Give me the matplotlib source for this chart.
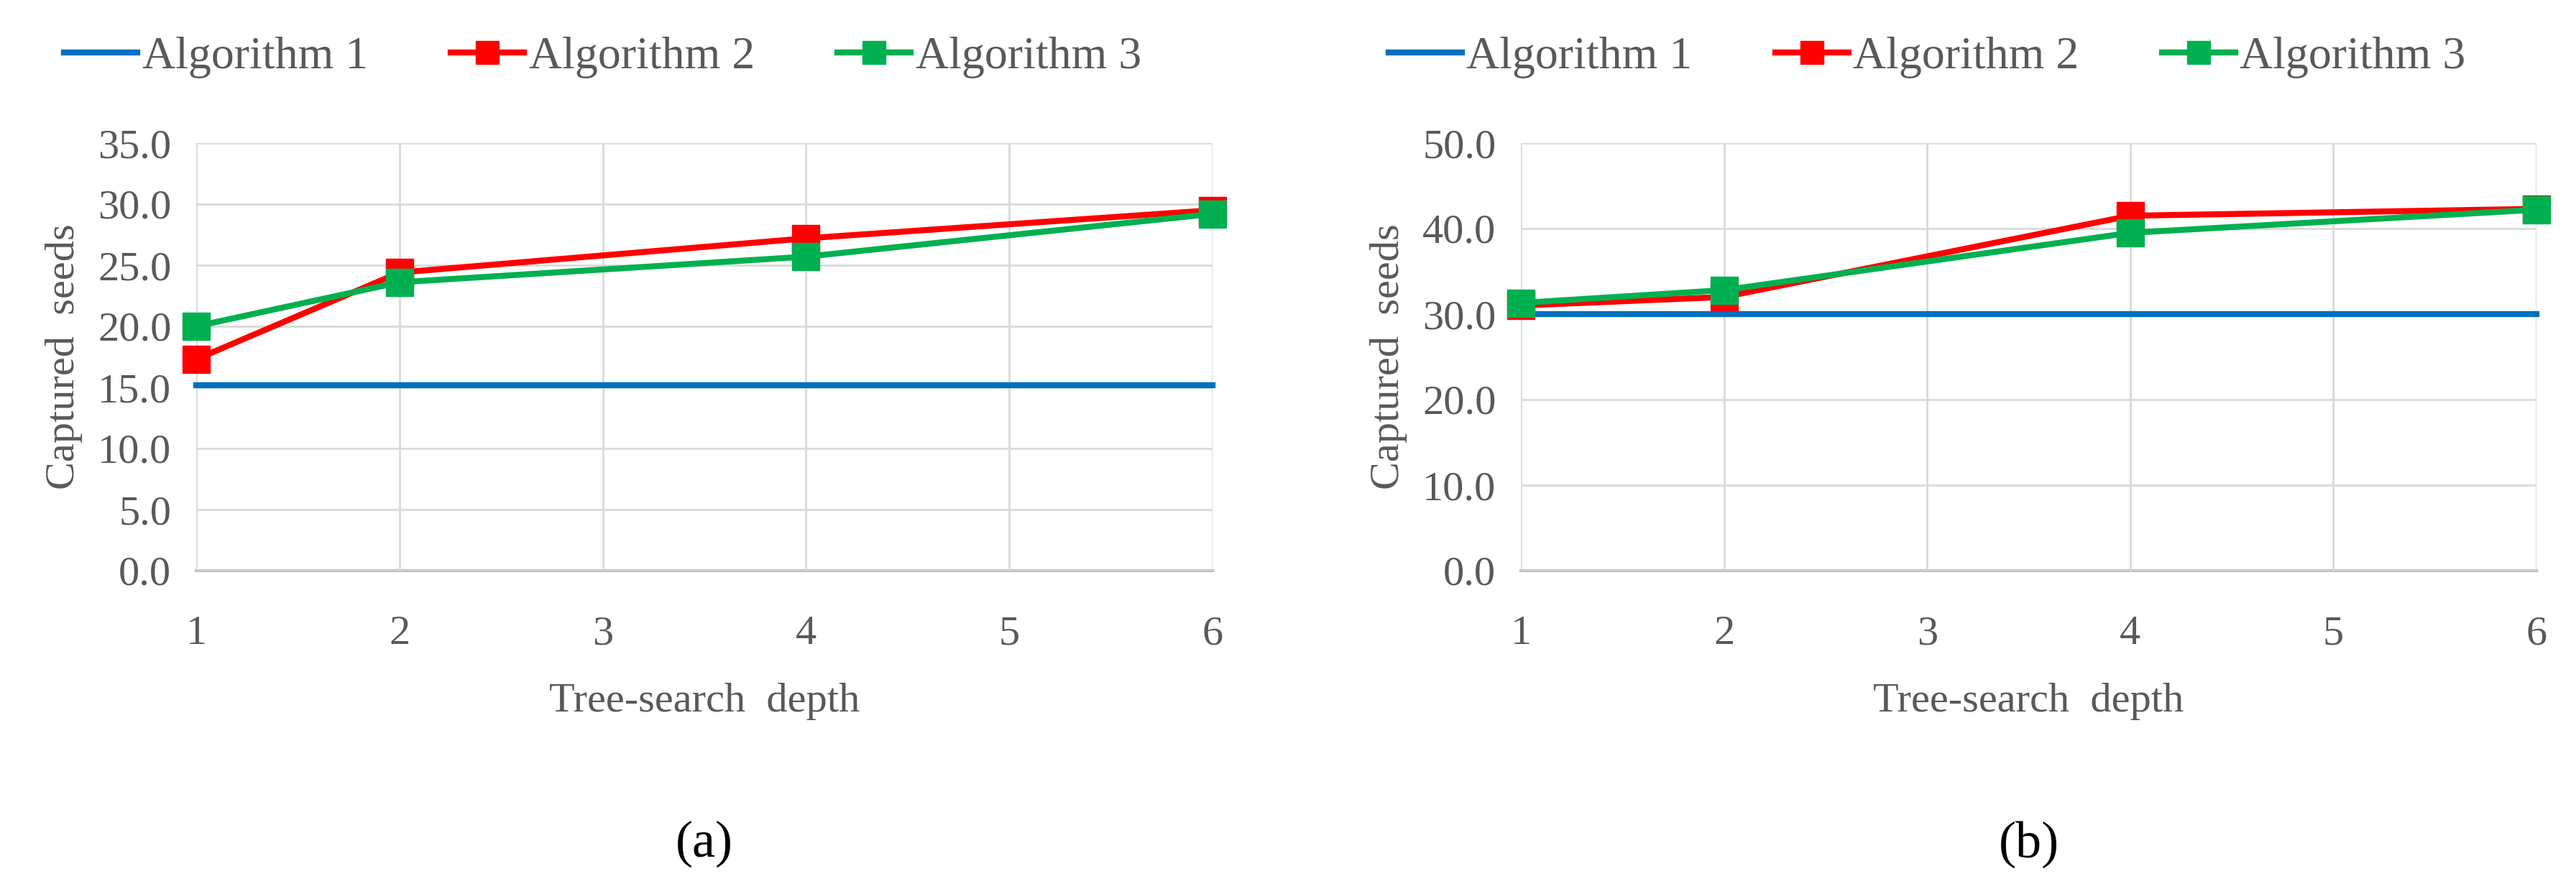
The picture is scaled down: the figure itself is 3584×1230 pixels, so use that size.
import numpy as np
import matplotlib.pyplot as plt
plt.switch_backend('agg')

depth = [1, 2, 4, 6]
a_alg1 = [15.2, 15.2, 15.2, 15.2]
a_alg2 = [17.3, 24.4, 27.2, 29.5]
a_alg3 = [20.0, 23.6, 25.7, 29.2]
b_alg1 = [30.0, 30.0, 30.0, 30.0]
b_alg2 = [31.0, 32.0, 41.5, 42.3]
b_alg3 = [31.3, 32.8, 39.5, 42.2]
a_ticks = [0, 5, 10, 15, 20, 25, 30, 35]
b_ticks = [0, 10, 20, 30, 40, 50]
xticks = [1, 2, 3, 4, 5, 6]

plt.rcParams['font.family'] = ['Liberation Serif', 'DejaVu Serif']
grey = '#595959'

fig = plt.figure(figsize=(35.84, 12.3), dpi=100)

def panel(rect, s1, s2, s3, yt, tag, leg_x):
    ax = fig.add_axes(rect)
    ax.plot(depth, s1, color='#0070C0', lw=6, label='Algorithm 1')
    ax.plot(depth, s2, color='#FF0000', lw=6, marker='s', ms=28, label='Algorithm 2')
    ax.plot(depth, s3, color='#00B050', lw=6, marker='s', ms=28, label='Algorithm 3')
    ax.set_xlim(1, 6)
    ax.set_ylim(yt[0], yt[-1])
    ax.set_xticks(xticks)
    ax.set_yticks(yt)
    ax.set_yticklabels(['%.1f' % v for v in yt])
    ax.grid(True, color='#D9D9D9', lw=2)
    for s in ax.spines.values():
        s.set_visible(False)
    ax.axhline(yt[0], color='#BFBFBF', lw=3, zorder=0.5)
    ax.tick_params(length=0, labelsize=42, labelcolor=grey, pad=25)
    ax.tick_params(axis='x', pad=45)
    for ln in ax.lines:
        ln.set_clip_on(False)
    ax.set_xlabel('Tree-search  depth', fontsize=42, color=grey, labelpad=30)
    ax.set_ylabel('Captured  seeds', fontsize=42, color=grey, labelpad=15)
    ax.legend(loc='center', bbox_to_anchor=(leg_x, 1.2), ncol=3, frameon=False,
              fontsize=46, labelcolor=grey, handlelength=1.6, handletextpad=0.1,
              columnspacing=1.8, markerscale=0.8)
    fig.text(rect[0] + rect[2] / 2, 0.045, '(' + tag + ')', fontsize=52,
             ha='center', va='center')
    return ax

panel([273 / 3584, 1 - 794 / 1230, (1687 - 273) / 3584, (794 - 199) / 1230],
      a_alg1, a_alg2, a_alg3, a_ticks, 'a', 0.4)
panel([2116 / 3584, 1 - 794 / 1230, (3529 - 2116) / 3584, (794 - 199) / 1230],
      b_alg1, b_alg2, b_alg3, b_ticks, 'b', 0.4)

fig.savefig('out.png', dpi=100)
plt.close()
